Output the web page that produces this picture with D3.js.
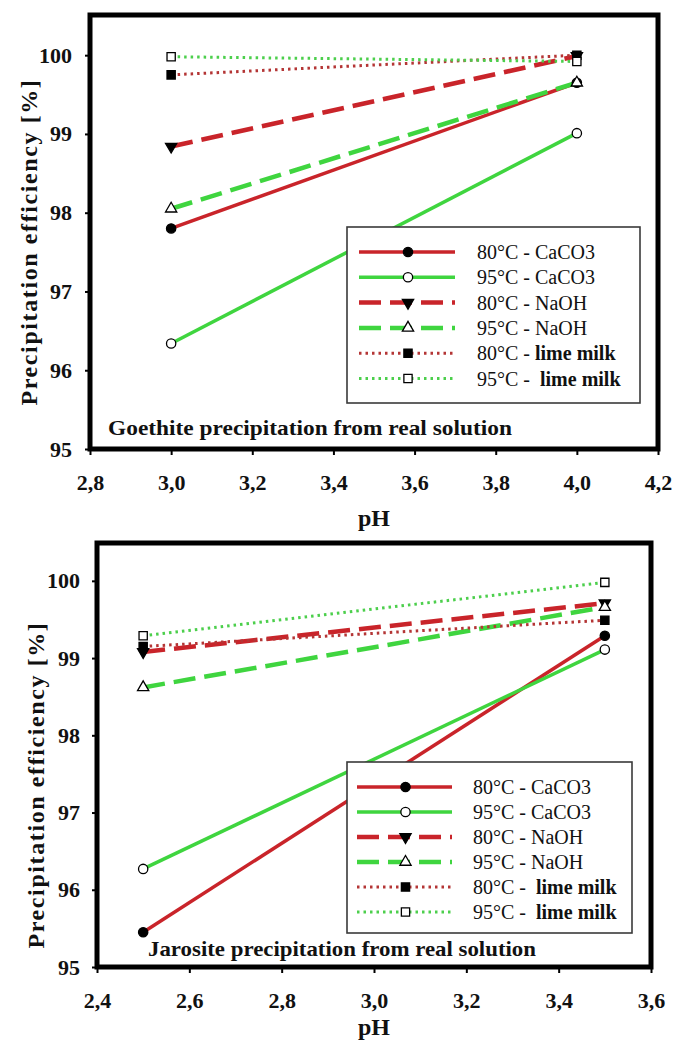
<!DOCTYPE html>
<html>
<head>
<meta charset="utf-8">
<script src="https://cdn.jsdelivr.net/npm/d3@7"></script>
</head>
<body style="margin:0; background:#fff">
<svg id="chart" width="673" height="1046"></svg>
<script>
// ---- data ----
var seriesNames = [ "80°C - CaCO3", "95°C - CaCO3", "80°C - NaOH", "95°C - NaOH", "80°C - lime milk", "95°C - lime milk" ];

// goethite, pH 3.0 and 4.0
var goethitePH = [ 3.0, 4.0 ];
var goethite80CaCO3 = [ 97.80, 99.65 ];
var goethite95CaCO3 = [ 96.34, 99.01 ];
var goethite80NaOH  = [ 98.84, 99.99 ];
var goethite95NaOH  = [ 98.05, 99.65 ];
var goethite80Lime  = [ 99.75, 100.0 ];
var goethite95Lime  = [ 99.98, 99.92 ];

// jarosite, pH 2.5 and 3.5
var jarositePH = [ 2.5, 3.5 ];
var jarosite80CaCO3 = [ 95.45, 99.29 ];
var jarosite95CaCO3 = [ 96.27, 99.11 ];
var jarosite80NaOH  = [ 99.08, 99.71 ];
var jarosite95NaOH  = [ 98.62, 99.66 ];
var jarosite80Lime  = [ 99.15, 99.49 ];
var jarosite95Lime  = [ 99.29, 99.98 ];

var goethiteXTicks = [ 2.8, 3.0, 3.2, 3.4, 3.6, 3.8, 4.0, 4.2 ];
var jarositeXTicks = [ 2.4, 2.6, 2.8, 3.0, 3.2, 3.4, 3.6 ];
var yTicks = [ 95, 96, 97, 98, 99, 100 ];

// legend labels as drawn (prefix, suffix)
var goethiteLegend = [ ["80°C - ", "CaCO3"], ["95°C - ", "CaCO3"], ["80°C - ", "NaOH"], ["95°C - ", "NaOH"], ["80°C - ", "lime milk"], ["95°C -  ", "lime milk"] ];
var jarositeLegend = [ ["80°C - ", "CaCO3"], ["95°C - ", "CaCO3"], ["80°C - ", "NaOH"], ["95°C - ", "NaOH"], ["80°C -  ", "lime milk"], ["95°C -  ", "lime milk"] ];

var FONT = "'Liberation Serif'";

// ---- styles per series ----
var RED = "#c9242a", GREEN = "#3fd53f", RED_DOT = "#b43535", GREEN_DOT = "#4ccf4c";
var styles = [
  { color: RED,       width: 3.5, dash: null,    sym: d3.symbolCircle,   fill: "#000" },
  { color: GREEN,     width: 3.5, dash: null,    sym: d3.symbolCircle,   fill: "#fff" },
  { color: RED,       width: 4.5, dash: "22,9",  sym: d3.symbolTriangle, fill: "#000", rot: 180 },
  { color: GREEN,     width: 4.5, dash: "22,9",  sym: d3.symbolTriangle, fill: "#fff" },
  { color: RED_DOT,   width: 3,   dash: "2.5,4", sym: d3.symbolSquare,   fill: "#000" },
  { color: GREEN_DOT, width: 3,   dash: "2.5,4", sym: d3.symbolSquare,   fill: "#fff" }
];

var comma = d3.formatLocale({ decimal: ",", thousands: ".", grouping: [3], currency: ["", ""] }).format(".1f");
var svg = d3.select( "#chart" );

var addMarker = function( g, st, x, y ) {
  var size = st.sym === d3.symbolTriangle ? 55 : 68;
  g.append( "path" )
    .attr( "d", d3.symbol().type( st.sym ).size( size )() )
    .attr( "transform", "translate(" + x + "," + y + ")" + ( st.rot ? " rotate(" + st.rot + ")" : "" ) )
    .attr( "fill", st.fill )
    .attr( "stroke", "#000" )
    .attr( "stroke-width", 1.3 );
};

var drawPanel = function( cfg ) {
  var g = svg.append( "g" );
  var x = d3.scaleLinear().domain( cfg.xDomain ).range( [ cfg.left, cfg.right ] );
  var y = d3.scaleLinear().domain( [ 95, cfg.yTop ] ).range( [ cfg.bottom, cfg.top ] );

  // axes
  var xAxis = g.append( "g" )
    .attr( "transform", "translate(0," + cfg.bottom + ")" )
    .call( d3.axisBottom( x ).tickValues( cfg.xTicks ).tickFormat( comma ).tickSize( 6 ).tickPadding( 19 ) );
  var yAxis = g.append( "g" )
    .attr( "transform", "translate(" + cfg.left + ",0)" )
    .call( d3.axisLeft( y ).tickValues( yTicks ).tickFormat( d3.format( "d" ) ).tickSize( 5 ).tickPadding( cfg.yPad ) );
  [ xAxis, yAxis ].forEach( function( a ) {
    a.attr( "font-family", null ).attr( "font-size", null );
    a.select( ".domain" ).remove();
    a.selectAll( "line" ).attr( "stroke", "#000" ).attr( "stroke-width", 2 );
    a.selectAll( "text" )
      .attr( "fill", "#111" )
      .style( "font-family", FONT )
      .style( "font-weight", "bold" )
      .style( "font-size", "22px" );
  });

  // series
  cfg.series.forEach( function( vals, i ) {
    var st = styles[ i ];
    var pts = cfg.ph.map( function( p, k ) { return [ x( p ), y( vals[ k ] ) ]; } );
    g.append( "path" )
      .attr( "d", d3.line()( pts ) )
      .attr( "fill", "none" )
      .attr( "stroke", st.color )
      .attr( "stroke-width", st.width )
      .attr( "stroke-dasharray", st.dash );
  });
  cfg.series.forEach( function( vals, i ) {
    cfg.ph.forEach( function( p, k ) { addMarker( g, styles[ i ], x( p ), y( vals[ k ] ) ); } );
  });

  // legend
  var L = cfg.legend;
  g.append( "rect" )
    .attr( "x", L.x ).attr( "y", L.y ).attr( "width", L.w ).attr( "height", L.h )
    .attr( "fill", "#fff" ).attr( "stroke", "#3a3a3a" ).attr( "stroke-width", 1.6 );
  cfg.labels.forEach( function( lab, i ) {
    var st = styles[ i ];
    var ry = L.row0 + i * L.step;
    g.append( "line" )
      .attr( "x1", L.lx1 ).attr( "x2", L.lx2 ).attr( "y1", ry ).attr( "y2", ry )
      .attr( "stroke", st.color ).attr( "stroke-width", st.width )
      .attr( "stroke-dasharray", st.dash );
    addMarker( g, st, ( L.lx1 + L.lx2 ) / 2 + 1, ry );
    var t = g.append( "text" )
      .attr( "x", L.tx ).attr( "y", ry + 7 )
      .attr( "fill", "#111" )
      .style( "font-family", FONT )
      .style( "font-size", "20px" )
      .style( "white-space", "pre" );
    t.append( "tspan" ).text( lab[ 0 ] );
    t.append( "tspan" ).text( lab[ 1 ] ).style( "font-weight", lab[ 1 ] === "lime milk" ? "bold" : "normal" );
  });

  // annotation
  g.append( "text" )
    .attr( "x", cfg.noteX ).attr( "y", cfg.noteY )
    .attr( "fill", "#111" )
    .attr( "textLength", cfg.noteW ).attr( "lengthAdjust", "spacingAndGlyphs" )
    .style( "font-family", FONT )
    .style( "font-size", "22px" ).style( "font-weight", "bold" )
    .text( cfg.note );

  // frame
  g.append( "rect" )
    .attr( "x", cfg.left ).attr( "y", cfg.top )
    .attr( "width", cfg.right - cfg.left ).attr( "height", cfg.bottom - cfg.top )
    .attr( "fill", "none" ).attr( "stroke", "#000" ).attr( "stroke-width", 5 );

  // axis titles
  g.append( "text" )
    .attr( "x", ( cfg.left + cfg.right ) / 2 ).attr( "y", cfg.phY )
    .attr( "text-anchor", "middle" ).attr( "fill", "#111" )
    .style( "font-family", FONT )
    .style( "font-size", "24px" ).style( "font-weight", "bold" )
    .text( "pH" );
  g.append( "text" )
    .attr( "transform", "translate(" + cfg.titleX + "," + cfg.titleY + ") rotate(-90)" )
    .attr( "text-anchor", "middle" ).attr( "dy", "0.35em" ).attr( "fill", "#111" )
    .style( "font-family", FONT )
    .style( "font-size", "24px" ).style( "font-weight", "bold" ).style( "letter-spacing", "1.6px" )
    .text( "Precipitation efficiency [%]" );
};

drawPanel({
  left: 90, right: 658, top: 15, bottom: 449, yTop: 100.51,
  xDomain: [ 2.8, 4.2 ], xTicks: goethiteXTicks, ph: goethitePH, yPad: 13,
  series: [ goethite80CaCO3, goethite95CaCO3, goethite80NaOH, goethite95NaOH, goethite80Lime, goethite95Lime ],
  labels: goethiteLegend,
  legend: { x: 347, y: 227, w: 293, h: 176, row0: 252, step: 25.3, lx1: 359, lx2: 455, tx: 477 },
  note: "Goethite precipitation from real solution", noteX: 108, noteY: 435, noteW: 404,
  phY: 526, titleX: 29, titleY: 242
});

drawPanel({
  left: 97, right: 651, top: 543, bottom: 967, yTop: 100.49,
  xDomain: [ 2.4, 3.6 ], xTicks: jarositeXTicks, ph: jarositePH, yPad: 12,
  series: [ jarosite80CaCO3, jarosite95CaCO3, jarosite80NaOH, jarosite95NaOH, jarosite80Lime, jarosite95Lime ],
  labels: jarositeLegend,
  legend: { x: 347, y: 762, w: 285, h: 171, row0: 787, step: 25, lx1: 357, lx2: 452, tx: 473 },
  note: "Jarosite precipitation from real solution", noteX: 148, noteY: 956, noteW: 388,
  phY: 1035, titleX: 36, titleY: 785
});
</script>
</body>
</html>
